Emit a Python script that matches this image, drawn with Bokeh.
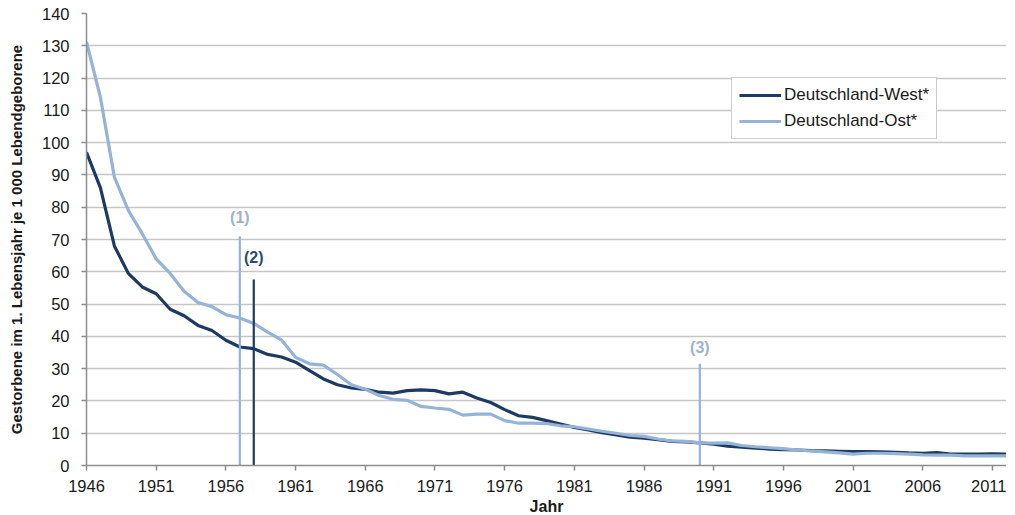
from bokeh.plotting import figure
from bokeh.models import Range1d, FixedTicker, Legend, LegendItem, ColumnDataSource
from bokeh.embed import file_html
from bokeh.resources import INLINE
from bokeh.core.properties import value

years = list(range(1946, 2013))

west = [97.0, 86.0, 68.0, 59.5, 55.3, 53.2, 48.4, 46.4, 43.4, 41.8,
        38.8, 36.7, 36.2, 34.4, 33.6, 32.0, 29.4, 26.8, 25.0, 24.0,
        23.6, 22.7, 22.4, 23.2, 23.4, 23.2, 22.2, 22.7, 20.9, 19.5,
        17.3, 15.4, 14.9, 13.9, 12.8, 11.8, 11.0, 10.2, 9.5, 8.8,
        8.5, 8.0, 7.5, 7.3, 7.0, 6.6, 6.0, 5.7, 5.4, 5.1,
        4.9, 4.8, 4.6, 4.5, 4.4, 4.3, 4.3, 4.2, 4.1, 3.9,
        3.8, 4.0, 3.5, 3.5, 3.5, 3.6, 3.5]

ost = [131.2, 114.0, 89.3, 79.0, 71.8, 64.0, 59.5, 54.0, 50.5, 49.2,
       46.7, 45.7, 44.0, 41.3, 38.8, 33.5, 31.5, 31.1, 28.2, 25.0,
       23.6, 21.7, 20.5, 20.2, 18.3, 17.8, 17.4, 15.6, 15.9, 15.9,
       13.9, 13.1, 13.1, 13.0, 12.3, 12.0, 11.3, 10.6, 10.0, 9.3,
       9.0, 8.2, 7.6, 7.5, 7.0, 6.9, 7.0, 6.2, 5.8, 5.5,
       5.2, 4.8, 4.5, 4.2, 3.9, 3.5, 3.8, 3.8, 3.7, 3.5,
       3.3, 3.2, 3.2, 3.0, 3.0, 3.0, 3.0]

series_names = ["Deutschland-West*", "Deutschland-Ost*"]

marker_years = [1957, 1958, 1990]
marker_tops = [71.0, 57.6, 31.5]
marker_labels = ["(1)", "(2)", "(3)"]
marker_label_y = [76.7, 64.4, 36.6]

x_ticks = list(range(1946, 2012, 5))
y_ticks = list(range(0, 141, 10))

DARK = "#1d3a62"
LIGHT = "#95b3d7"
marker_colors = [LIGHT, DARK, LIGHT]
label_colors = ["#9fb2c9", "#2f4a6e", "#9fb2c9"]

p = figure(frame_width=920, frame_height=452,
           x_range=Range1d(1946, 2012), y_range=Range1d(0, 140),
           output_backend="svg", toolbar_location=None,
           min_border_left=86, min_border_right=0, min_border_top=13,
           min_border_bottom=40)
p.outline_line_color = None
p.background_fill_color = "white"

# grid
p.xgrid.grid_line_color = None
p.ygrid.grid_line_color = "#c6c6c6"
p.ygrid.grid_line_width = 1.5
p.ygrid.ticker = FixedTicker(ticks=y_ticks)

# axes
for ax in (p.xaxis[0], p.yaxis[0]):
    ax.axis_line_color = "#8c8c8c"
    ax.axis_line_width = 1.5
    ax.major_tick_line_color = "#8c8c8c"
    ax.major_tick_line_width = 1.5
    ax.major_tick_in = 0
    ax.major_tick_out = 5
    ax.minor_tick_line_color = None
    ax.major_label_text_font = "Liberation Sans"
    ax.major_label_text_font_size = "16.5px"
    ax.major_label_text_color = "#1a1a1a"
    ax.axis_label_text_font = "Liberation Sans"
    ax.axis_label_text_font_style = "bold"
    ax.axis_label_text_color = "#1a1a1a"

p.xaxis.ticker = FixedTicker(ticks=x_ticks)
p.yaxis.ticker = FixedTicker(ticks=y_ticks)
p.xaxis.major_label_standoff = 9
p.yaxis.major_label_standoff = 12
p.xaxis.axis_label = "Jahr"
p.xaxis.axis_label_text_font_size = "16px"
p.xaxis.axis_label_standoff = 3
p.yaxis.axis_label = "Gestorbene im 1. Lebensjahr je 1 000 Lebendgeborene"
p.yaxis.axis_label_text_font_size = "15px"
p.yaxis.axis_label_standoff = 14

# series
src = ColumnDataSource(dict(year=years, west=west, ost=ost))
r_west = p.line("year", "west", source=src, line_color=DARK, line_width=3.2,
                line_join="round")
r_ost = p.line("year", "ost", source=src, line_color=LIGHT, line_width=3.2,
               line_join="round")

# marker lines
msrc = ColumnDataSource(dict(x=marker_years, top=marker_tops,
                             bottom=[0] * len(marker_years),
                             color=marker_colors, label=marker_labels,
                             ly=marker_label_y, lcolor=label_colors))
p.segment(x0="x", y0="bottom", x1="x", y1="top", source=msrc,
          line_color="color", line_width=2.2)
p.text(x="x", y="ly", text="label", source=msrc, text_color="lcolor",
       text_font=value("Liberation Sans"), text_font_style="bold",
       text_font_size="16px", text_align="center", text_baseline="middle")

legend = Legend(items=[LegendItem(label=series_names[0], renderers=[r_west]),
                       LegendItem(label=series_names[1], renderers=[r_ost])],
                location=(645, 326))
legend.border_line_color = "#9a9a9a"
legend.border_line_width = 1.2
legend.background_fill_color = "white"
legend.background_fill_alpha = 1.0
legend.label_text_font = "Liberation Sans"
legend.label_text_font_size = "17px"
legend.label_text_color = "#1a1a1a"
legend.glyph_width = 42
legend.glyph_height = 20
legend.label_height = 20
legend.label_standoff = 3
legend.padding = 7
legend.spacing = 6
legend.margin = 0
p.add_layout(legend, "center")

open("out.html", "w").write(file_html(p, INLINE))
